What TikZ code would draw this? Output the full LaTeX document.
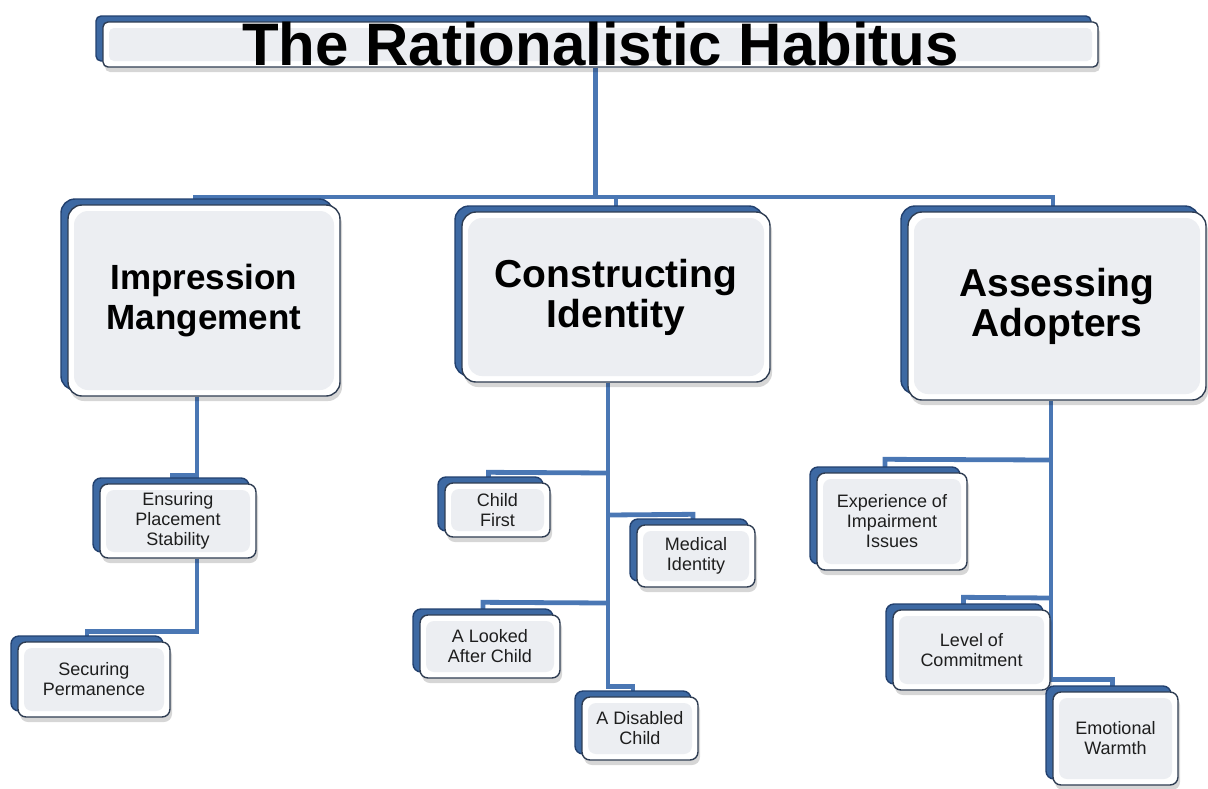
\documentclass[tikz,border=0pt]{standalone}
\usepackage{fontspec}
\setmainfont{Liberation Sans}
\usetikzlibrary{shadows,calc,backgrounds}
\definecolor{conn}{HTML}{4A77B4}
\definecolor{plate}{HTML}{3D69A3}
\definecolor{plateedge}{HTML}{22406E}
\definecolor{faceedge}{HTML}{2F3D52}
\definecolor{facein}{HTML}{ECEEF2}
\definecolor{textcol}{HTML}{1E1E1E}
\tikzset{
  box/.style={draw=faceedge, line width=1.4pt, rounded corners=#1, fill=white, inner sep=0pt, align=center,
    general shadow={shadow xshift=2pt, shadow yshift=-5pt, fill=black, opacity=0.16},
    general shadow={shadow xshift=-7pt, shadow yshift=6pt, fill=plate, draw=plateedge, line width=1.4pt},
    path picture={\fill[facein, rounded corners=#1] ([shift={(6pt,6pt)}]path picture bounding box.south west) rectangle ([shift={(-6pt,-6pt)}]path picture bounding box.north east);}},
  bigtext/.style={font={\fontsize{#1}{40}\selectfont\bfseries}},
  smalltext/.style={font={\fontsize{18}{20}\selectfont}, text=textcol},
  conn/.style={draw=conn, line width=4.8pt}
}
\begin{document}
\begin{tikzpicture}[x=1pt,y=-1pt]
\useasboundingbox (0,0) rectangle (1208,788);
\path
  node[box=5pt, minimum width=995pt, minimum height=45pt, font={\fontsize{60}{66}\selectfont\bfseries}] (title) at (600.5,44.5) {The Rationalistic Habitus}
  node[box=14pt, minimum width=272pt, minimum height=191pt, bigtext=35] (imp) at (204,300.5) {Impression\\Mangement}
  node[box=14pt, minimum width=308pt, minimum height=170pt, bigtext=39] (con) at (616,297) {Constructing\\Identity}
  node[box=14pt, minimum width=298pt, minimum height=188pt, bigtext=39] (ass) at (1057,306) {Assessing\\Adopters}
  node[box=8pt, minimum width=156pt, minimum height=74pt, smalltext] (ens) at (178,521) {Ensuring\\Placement\\Stability}
  node[box=8pt, minimum width=152pt, minimum height=75pt, smalltext] (sec) at (94,679.5) {Securing\\Permanence}
  node[box=8pt, minimum width=105pt, minimum height=54pt, smalltext] (cf) at (497.5,510) {Child\\First}
  node[box=8pt, minimum width=118pt, minimum height=62pt, smalltext] (mi) at (696,556) {Medical\\Identity}
  node[box=8pt, minimum width=140pt, minimum height=63pt, smalltext] (la) at (490,646.5) {A Looked\\After Child}
  node[box=8pt, minimum width=116pt, minimum height=63pt, smalltext] (dc) at (640,728.5) {A Disabled\\Child}
  node[box=8pt, minimum width=150pt, minimum height=97pt, smalltext] (ex) at (892,521.5) {Experience of\\Impairment\\Issues}
  node[box=8pt, minimum width=157pt, minimum height=80pt, smalltext] (lc) at (971.5,650) {Level of\\Commitment}
  node[box=8pt, minimum width=125pt, minimum height=93pt, smalltext] (ew) at (1115.5,738.5) {Emotional\\Warmth};
\begin{pgfonlayer}{background}
  % top level
  \coordinate (hub) at ([xshift=-5pt]title.south |- 0,197);
  \draw[conn] ([xshift=-5pt]title.south) -- (hub);
  \draw[conn] (hub) -| ([xshift=-9pt]imp.north);
  \draw[conn] (hub) -| (con.north);
  \draw[conn] (hub) -| ([xshift=-4pt]ass.north);
  % Impression Management
  \draw[conn] ([xshift=-7pt]imp.south) |- ([xshift=-6pt,yshift=8pt]ens.north) -- ([xshift=-6pt]ens.north);
  \draw[conn] ([xshift=19pt]ens.south) |- ([xshift=-7pt,yshift=10pt]sec.north) -- ([xshift=-7pt]sec.north);
  % Constructing Identity
  \coordinate (ct) at ([xshift=-8pt]con.south);
  \draw[conn] (ct) |- ([xshift=-7pt,yshift=10pt]dc.north) -- ([xshift=-7pt]dc.north);
  \draw[conn] (ct |- 0,473) -- ([xshift=-9pt,yshift=10pt]cf.north) -- ([xshift=-9pt]cf.north);
  \draw[conn] (ct |- 0,515) -- ([xshift=-3pt,yshift=10pt]mi.north) -- ([xshift=-3pt]mi.north);
  \draw[conn] (ct |- 0,603) -- ([xshift=-7pt,yshift=12pt]la.north) -- ([xshift=-7pt]la.north);
  % Assessing Adopters
  \coordinate (at) at ([xshift=-6pt]ass.south);
  \draw[conn] (at) |- ([xshift=-3pt,yshift=12pt]ew.north) -- ([xshift=-3pt]ew.north);
  \draw[conn] (at |- 0,460) -- ([xshift=-7pt,yshift=13pt]ex.north) -- ([xshift=-7pt]ex.north);
  \draw[conn] (at |- 0,598) -- ([xshift=-8pt,yshift=12pt]lc.north) -- ([xshift=-8pt]lc.north);
\end{pgfonlayer}
\end{tikzpicture}
\end{document}
